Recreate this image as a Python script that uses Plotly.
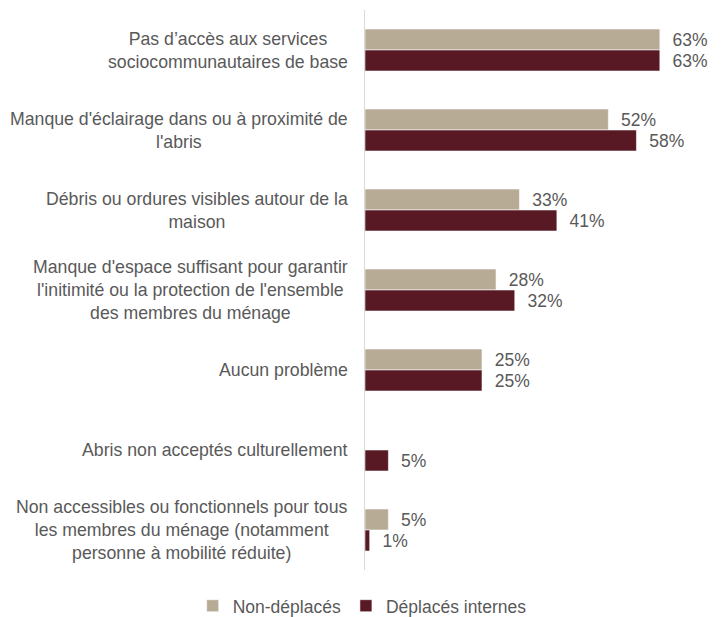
import plotly.graph_objects as go

# Problèmes liés à l'abri, par statut de déplacement (% des ménages)
categories = [
    "Pas d’accès aux services<br>sociocommunautaires de base",
    "Manque d'éclairage dans ou à proximité de<br>l'abris",
    "Débris ou ordures visibles autour de la<br>maison",
    "Manque d'espace suffisant pour garantir<br>l'initimité ou la protection de l'ensemble<br>des membres du ménage",
    "Aucun problème",
    "Abris non acceptés culturellement",
    "Non accessibles ou fonctionnels pour tous<br>les membres du ménage (notamment<br>personne à mobilité réduite)",
]
non_deplaces = [63, 52, 33, 28, 25, None, 5]
deplaces_internes = [63, 58, 41, 32, 25, 5, 1]

series_names = ["Non-déplacés", "Déplacés internes"]
series_colors = ["#B7AB96", "#581824"]

FONT = "Arial, 'Liberation Sans', sans-serif"
TEXT_COLOR = "#595959"
NBSP = "\u00a0"

fig = go.Figure()
for name, values, color in zip(series_names, [non_deplaces, deplaces_internes], series_colors):
    fig.add_trace(go.Bar(
        y=categories,
        x=values,
        name=name,
        orientation="h",
        marker=dict(color=color, line=dict(color="rgba(255,255,255,0.55)", width=1)),
        texttemplate=NBSP * 2 + "%{x}%",
        textposition="outside",
        textfont=dict(family=FONT, size=17.5, color=TEXT_COLOR),
        constraintext="none",
        cliponaxis=False,
        hoverinfo="skip",
    ))

# Category labels, centred line by line and right-aligned against the axis
for cat in categories:
    fig.add_annotation(
        x=0, y=cat, xref="x", yref="y",
        text=cat, showarrow=False,
        xanchor="right", yanchor="middle", align="center",
        xshift=-15,
        font=dict(family=FONT, size=17.7, color=TEXT_COLOR),
    )

fig.update_layout(
    width=722, height=617,
    margin=dict(l=365, r=6, t=10, b=47, autoexpand=False),
    paper_bgcolor="white", plot_bgcolor="white",
    barmode="group", bargap=0.475, bargroupgap=0,
    font=dict(family=FONT, size=17, color=TEXT_COLOR),
    showlegend=True,
    legend=dict(
        orientation="h", x=-0.008, xanchor="center",
        y=-0.064, yanchor="middle",
        font=dict(family=FONT, size=17.5, color=TEXT_COLOR),
        itemwidth=30, traceorder="normal",
    ),
    xaxis=dict(range=[0, 75], visible=False, fixedrange=True),
    yaxis=dict(
        autorange="reversed", showticklabels=False, ticks="",
        showgrid=False, zeroline=False,
        showline=True, linecolor="#D9D9D9", linewidth=1,
        fixedrange=True,
    ),
)

fig.write_html("out.html")
